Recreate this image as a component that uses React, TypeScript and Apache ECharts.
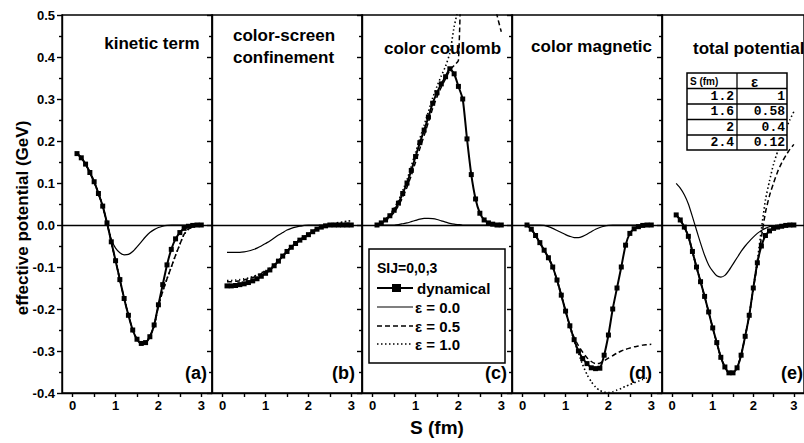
import React, { useEffect, useRef } from "react";
import * as echarts from "echarts";

// separation S (fm)
const S_FM = [0.1, 0.2, 0.3, 0.4, 0.5, 0.6, 0.7, 0.8, 0.9, 1.0, 1.1, 1.2, 1.3, 1.4, 1.5, 1.6, 1.7, 1.8, 1.9, 2.0, 2.1, 2.2, 2.3, 2.4, 2.5, 2.6, 2.7, 2.8, 2.9, 3.0];

// (a) kinetic term
const kineticDyn = [0.170, 0.160, 0.145, 0.125, 0.103, 0.075, 0.045, 0.005, -0.040, -0.085, -0.130, -0.175, -0.215, -0.250, -0.272, -0.282, -0.280, -0.266, -0.238, -0.190, -0.142, -0.095, -0.058, -0.033, -0.018, -0.008, -0.003, -0.001, 0.000, 0.000];
const kineticE0 = [0.170, 0.160, 0.145, 0.125, 0.103, 0.075, 0.045, 0.005, -0.035, -0.055, -0.066, -0.071, -0.070, -0.063, -0.052, -0.040, -0.028, -0.018, -0.011, -0.006, -0.003, -0.001, 0, 0, 0, 0, 0, 0, 0, 0];
const kineticE05 = [0.170, 0.160, 0.145, 0.125, 0.103, 0.075, 0.045, 0.005, -0.040, -0.085, -0.130, -0.175, -0.215, -0.250, -0.272, -0.282, -0.280, -0.266, -0.240, -0.193, -0.158, -0.128, -0.100, -0.072, -0.046, -0.022, -0.010, -0.004, -0.001, 0.000];
const kineticE10 = [0.170, 0.160, 0.145, 0.125, 0.103, 0.075, 0.045, 0.005, -0.040, -0.085, -0.130, -0.175, -0.215, -0.250, -0.272, -0.282, -0.280, -0.266, -0.240, -0.193, -0.158, -0.128, -0.100, -0.072, -0.046, -0.022, -0.010, -0.004, -0.001, 0.000];

// (b) color-screen confinement
const screenDyn = [-0.145, -0.145, -0.144, -0.142, -0.140, -0.137, -0.133, -0.128, -0.122, -0.115, -0.107, -0.097, -0.086, -0.074, -0.063, -0.053, -0.044, -0.036, -0.030, -0.023, -0.016, -0.010, -0.005, -0.002, 0, 0, 0, 0, 0, 0];
const screenE0 = [-0.065, -0.065, -0.065, -0.065, -0.064, -0.062, -0.059, -0.055, -0.050, -0.044, -0.038, -0.031, -0.024, -0.018, -0.012, -0.008, -0.005, -0.003, -0.001, 0, 0, 0, 0, 0, 0, 0, 0, 0, 0, 0];
const screenE05 = [-0.135, -0.135, -0.134, -0.133, -0.131, -0.128, -0.125, -0.121, -0.116, -0.111, -0.105, -0.096, -0.086, -0.074, -0.063, -0.053, -0.044, -0.036, -0.030, -0.023, -0.016, -0.010, -0.005, -0.001, 0.001, 0.002, 0.003, 0.003, 0.004, 0.004];
const screenE10 = [-0.132, -0.132, -0.131, -0.130, -0.128, -0.126, -0.123, -0.119, -0.114, -0.109, -0.103, -0.095, -0.085, -0.073, -0.062, -0.052, -0.043, -0.035, -0.028, -0.021, -0.014, -0.008, -0.003, 0.000, 0.002, 0.004, 0.006, 0.007, 0.009, 0.010];

// (c) color coulomb
const coulombDyn = [0.000, 0.005, 0.012, 0.022, 0.035, 0.052, 0.075, 0.100, 0.130, 0.163, 0.196, 0.226, 0.257, 0.290, 0.315, 0.336, 0.353, 0.372, 0.360, 0.330, 0.300, 0.205, 0.120, 0.062, 0.028, 0.012, 0.005, 0.002, 0.000, 0.000];
const coulombE0 = [0, 0, 0, 0, 0, 0.001, 0.003, 0.005, 0.008, 0.011, 0.014, 0.016, 0.016, 0.015, 0.013, 0.010, 0.007, 0.004, 0.002, 0.001, 0, 0, 0, 0, 0, 0, 0, 0, 0, 0];
const coulombE05 = [0.000, 0.004, 0.010, 0.019, 0.030, 0.046, 0.066, 0.090, 0.118, 0.150, 0.182, 0.213, 0.245, 0.278, 0.305, 0.328, 0.348, 0.368, 0.380, 0.392, 0.720, 0.800, 0.820, 0.800, 0.760, 0.700, 0.630, 0.560, 0.500, 0.460];
const coulombE10 = [0.000, 0.006, 0.014, 0.025, 0.040, 0.058, 0.082, 0.108, 0.140, 0.173, 0.206, 0.238, 0.270, 0.303, 0.330, 0.355, 0.378, 0.410, 0.472, 0.520, 0.620, 0.700, 0.780, 0.850, 0.910, 0.960, 1.000, 1.040, 1.070, 1.100];

// (d) color magnetic
const magDyn = [0.000, -0.010, -0.025, -0.042, -0.060, -0.078, -0.100, -0.131, -0.167, -0.205, -0.240, -0.273, -0.300, -0.318, -0.330, -0.340, -0.342, -0.341, -0.310, -0.262, -0.200, -0.150, -0.100, -0.048, -0.020, -0.009, -0.004, -0.001, 0, 0];
const magE0 = [0, 0, 0, 0, -0.001, -0.004, -0.008, -0.013, -0.018, -0.023, -0.027, -0.030, -0.030, -0.027, -0.022, -0.016, -0.010, -0.006, -0.003, -0.001, 0, 0, 0, 0, 0, 0, 0, 0, 0, 0];
const magE05 = [0.000, -0.010, -0.025, -0.042, -0.060, -0.078, -0.100, -0.131, -0.167, -0.205, -0.240, -0.268, -0.287, -0.303, -0.316, -0.325, -0.330, -0.329, -0.323, -0.317, -0.311, -0.305, -0.300, -0.296, -0.293, -0.290, -0.288, -0.286, -0.285, -0.284];
const magE10 = [0.000, -0.010, -0.025, -0.042, -0.060, -0.078, -0.100, -0.131, -0.167, -0.205, -0.242, -0.275, -0.305, -0.333, -0.356, -0.373, -0.386, -0.394, -0.398, -0.399, -0.397, -0.393, -0.389, -0.384, -0.380, -0.376, -0.372, -0.368, -0.364, -0.360];

// (e) total potential
const totalDyn = [0.024, 0.012, -0.005, -0.027, -0.063, -0.100, -0.135, -0.170, -0.207, -0.245, -0.280, -0.315, -0.338, -0.352, -0.352, -0.340, -0.310, -0.265, -0.215, -0.150, -0.090, -0.050, -0.025, -0.014, -0.008, -0.005, -0.003, -0.001, 0, 0];
const totalE0 = [0.099, 0.088, 0.072, 0.050, 0.020, -0.012, -0.043, -0.072, -0.095, -0.110, -0.121, -0.124, -0.120, -0.108, -0.093, -0.078, -0.063, -0.050, -0.039, -0.029, -0.020, -0.013, -0.008, -0.004, -0.002, -0.001, 0, 0, 0, 0];
const totalE05 = [0.024, 0.012, -0.005, -0.027, -0.063, -0.100, -0.135, -0.170, -0.207, -0.245, -0.280, -0.315, -0.338, -0.352, -0.352, -0.340, -0.310, -0.265, -0.215, -0.152, -0.095, -0.030, 0.030, 0.070, 0.100, 0.127, 0.148, 0.165, 0.180, 0.192];
const totalE10 = [0.024, 0.012, -0.005, -0.027, -0.063, -0.100, -0.135, -0.170, -0.207, -0.245, -0.280, -0.315, -0.338, -0.352, -0.352, -0.340, -0.310, -0.265, -0.215, -0.150, -0.085, -0.010, 0.060, 0.105, 0.145, 0.175, 0.202, 0.228, 0.250, 0.270];

const PANEL_TITLES = ["kinetic term", "color-screen\nconfinement", "color coulomb", "color magnetic", "total potential"];
const PANEL_TAGS = ["(a)", "(b)", "(c)", "(d)", "(e)"];
const X_TICKS = [0, 1, 2, 3];
const LEGEND_HEADER = "SIJ=0,0,3";
const LEGEND_NAMES = ["dynamical", "ε = 0.0", "ε = 0.5", "ε = 1.0"];
const TABLE_HEADER = ["S (fm)", "ε"];
const TABLE_S = ["1.2", "1.6", "2", "2.4"];
const TABLE_EPS = ["1", "0.58", "0.4", "0.12"];

const PANELS = [
  { dyn: kineticDyn, e0: kineticE0, e05: kineticE05, e10: kineticE10 },
  { dyn: screenDyn, e0: screenE0, e05: screenE05, e10: screenE10 },
  { dyn: coulombDyn, e0: coulombE0, e05: coulombE05, e10: coulombE10 },
  { dyn: magDyn, e0: magE0, e05: magE05, e10: magE10 },
  { dyn: totalDyn, e0: totalE0, e05: totalE05, e10: totalE10 },
];

const SANS = '"Liberation Sans", Arial, Helvetica, sans-serif';
const MONO = '"Liberation Mono", "DejaVu Sans Mono", monospace';

export default function App() {
  const ref = useRef<HTMLDivElement>(null);

  useEffect(() => {
    if (!ref.current) return;
    const chart = echarts.init(ref.current, null, { renderer: "svg" });

    const L0 = 62;
    const PW = 150;
    const TOP = 15;
    const H = 378;
    const black = "#000";
    const axisLineStyle = { color: black, width: 1.4 };
    const zip = (ys: number[]) => S_FM.map((x, k) => [x, ys[k]]);

    const grids: any[] = [];
    const xAxes: any[] = [];
    const yAxes: any[] = [];
    const series: any[] = [];

    PANELS.forEach((p, i) => {
      grids.push({
        left: L0 + PW * i,
        top: TOP,
        width: PW,
        height: H,
        show: true,
        borderColor: black,
        borderWidth: 1.4,
        backgroundColor: "transparent",
      });
      xAxes.push({
        gridIndex: i,
        type: "value",
        min: -0.25,
        max: 3.25,
        axisLine: { show: true, onZero: false, lineStyle: axisLineStyle },
        axisTick: { show: true, customValues: [0, 0.5, 1, 1.5, 2, 2.5, 3], length: 4, lineStyle: axisLineStyle },
        axisLabel: {
          show: true,
          customValues: X_TICKS,
          formatter: (v: number) => String(Math.round(v)),
          color: black,
          fontFamily: SANS,
          fontWeight: "bold",
          fontSize: 13,
          margin: 6,
        },
        splitLine: { show: false },
      });
      yAxes.push({
        gridIndex: i,
        type: "value",
        min: -0.4,
        max: 0.5,
        interval: 0.1,
        axisLine: { show: true, onZero: false, lineStyle: axisLineStyle },
        axisTick: { show: true, length: 5, lineStyle: axisLineStyle },
        minorTick: { show: true, splitNumber: 2, length: 3, lineStyle: axisLineStyle },
        axisLabel: {
          show: i === 0,
          formatter: (v: number) => (Math.abs(v) < 1e-9 ? "0.0" : v.toFixed(1)),
          color: black,
          fontFamily: SANS,
          fontWeight: "bold",
          fontSize: 13,
          margin: 7,
        },
        splitLine: { show: false },
        minorSplitLine: { show: false },
      });
      const base = { type: "line", xAxisIndex: i, yAxisIndex: i, clip: true, smooth: 0.2, silent: true, color: black };
      series.push({
        ...base,
        name: "ε = 1.0",
        data: zip(p.e10),
        showSymbol: false,
        lineStyle: { color: black, width: 1.6, type: [1.5, 2.5] },
      });
      series.push({
        ...base,
        name: "ε = 0.5",
        data: zip(p.e05),
        showSymbol: false,
        lineStyle: { color: black, width: 1.5, type: [5, 3] },
      });
      series.push({
        ...base,
        name: "ε = 0.0",
        data: zip(p.e0),
        showSymbol: false,
        lineStyle: { color: black, width: 1.2 },
      });
      series.push({
        ...base,
        name: "dynamical",
        data: zip(p.dyn),
        symbol: "rect",
        symbolSize: 5,
        showSymbol: true,
        itemStyle: { color: black },
        lineStyle: { color: black, width: 2 },
        markLine: {
          silent: true,
          symbol: "none",
          label: { show: false },
          lineStyle: { color: black, width: 1.3, type: "solid" },
          data: [{ yAxis: 0 }],
        },
      });
    });

    const txt = (text: string, x: number, y: number, size: number, align: string = "left", family: string = SANS, extra: any = {}) => ({
      type: "text",
      x,
      y,
      z: 100,
      ...extra,
      style: {
        text,
        font: `bold ${size}px ${family}`,
        fill: black,
        textAlign: align,
        textVerticalAlign: "middle",
      },
    });
    const hline = (x1: number, x2: number, y: number, w: number, dash?: number[]) => ({
      type: "line",
      z: 100,
      shape: { x1, y1: y, x2, y2: y },
      style: { stroke: black, lineWidth: w, lineDash: dash },
    });

    const graphics: any[] = [];
    // panel titles
    graphics.push(txt(PANEL_TITLES[0], 152, 43, 17, "center"));
    const conf = PANEL_TITLES[1].split("\n");
    graphics.push(txt(conf[0], 233, 35, 17, "left"));
    graphics.push(txt(conf[1], 233, 57, 17, "left"));
    graphics.push(txt(PANEL_TITLES[2], 384, 48, 17, "left"));
    graphics.push(txt(PANEL_TITLES[3], 652, 46, 17, "right"));
    graphics.push(txt(PANEL_TITLES[4], 693, 48, 17, "left"));
    // panel tags
    const tagX = [207, 355, 507, 652, 803];
    PANEL_TAGS.forEach((t, i) => graphics.push(txt(t, tagX[i], 373, 18, "right")));
    // axis titles
    graphics.push(txt("S (fm)", 437, 427, 19, "center"));
    graphics.push(txt("effective potential (GeV)", 22, 218, 17, "center", SANS, { rotation: Math.PI / 2 }));

    // legend box
    graphics.push({
      type: "rect",
      z: 99,
      shape: { x: 369, y: 249, width: 136, height: 114 },
      style: { fill: "#fff", stroke: black, lineWidth: 1.5 },
    });
    graphics.push(txt(LEGEND_HEADER, 377, 268, 14, "left"));
    graphics.push(hline(377, 413, 288, 2));
    graphics.push({ type: "rect", z: 101, shape: { x: 392, y: 284, width: 9, height: 8 }, style: { fill: black } });
    graphics.push(txt(LEGEND_NAMES[0], 417, 288, 15, "left"));
    graphics.push(hline(377, 413, 307, 1.2));
    graphics.push(txt(LEGEND_NAMES[1], 415, 307, 15, "left"));
    graphics.push(hline(377, 413, 326, 1.5, [5, 3]));
    graphics.push(txt(LEGEND_NAMES[2], 415, 326, 15, "left"));
    graphics.push(hline(377, 413, 344, 1.6, [1.5, 2.5]));
    graphics.push(txt(LEGEND_NAMES[3], 415, 344, 15, "left"));

    // table
    const tX = 687, tY = 73, tW = 100, tH = 77, colX = 737;
    const rowY = [73, 88.5, 104, 119.5, 135, 150];
    graphics.push({
      type: "rect",
      z: 99,
      shape: { x: tX, y: tY, width: tW, height: tH },
      style: { fill: "#fff", stroke: black, lineWidth: 1.5 },
    });
    graphics.push({
      type: "line",
      z: 100,
      shape: { x1: colX, y1: tY, x2: colX, y2: tY + tH },
      style: { stroke: black, lineWidth: 1.3 },
    });
    for (let r = 1; r < rowY.length - 1; r++) graphics.push(hline(tX, tX + tW, rowY[r], 1.3));
    graphics.push(txt(TABLE_HEADER[0], 690, 81, 10, "left"));
    graphics.push(txt(TABLE_HEADER[1], 751, 81, 15, "left"));
    TABLE_S.forEach((s, r) => {
      const cy = (rowY[r + 1] + rowY[r + 2]) / 2;
      graphics.push(txt(s, 734, cy, 13, "right", MONO));
      graphics.push(txt(TABLE_EPS[r], 785, cy, 13, "right", MONO));
    });

    chart.setOption({
      animation: false,
      backgroundColor: "#fff",
      grid: grids,
      xAxis: xAxes,
      yAxis: yAxes,
      series,
      graphic: { elements: graphics },
    });

    return () => chart.dispose();
  }, []);

  return (
    <div
      ref={ref}
      style={{ position: "absolute", left: 0, top: 0, width: 804, height: 443, background: "#fff" }}
    />
  );
}
